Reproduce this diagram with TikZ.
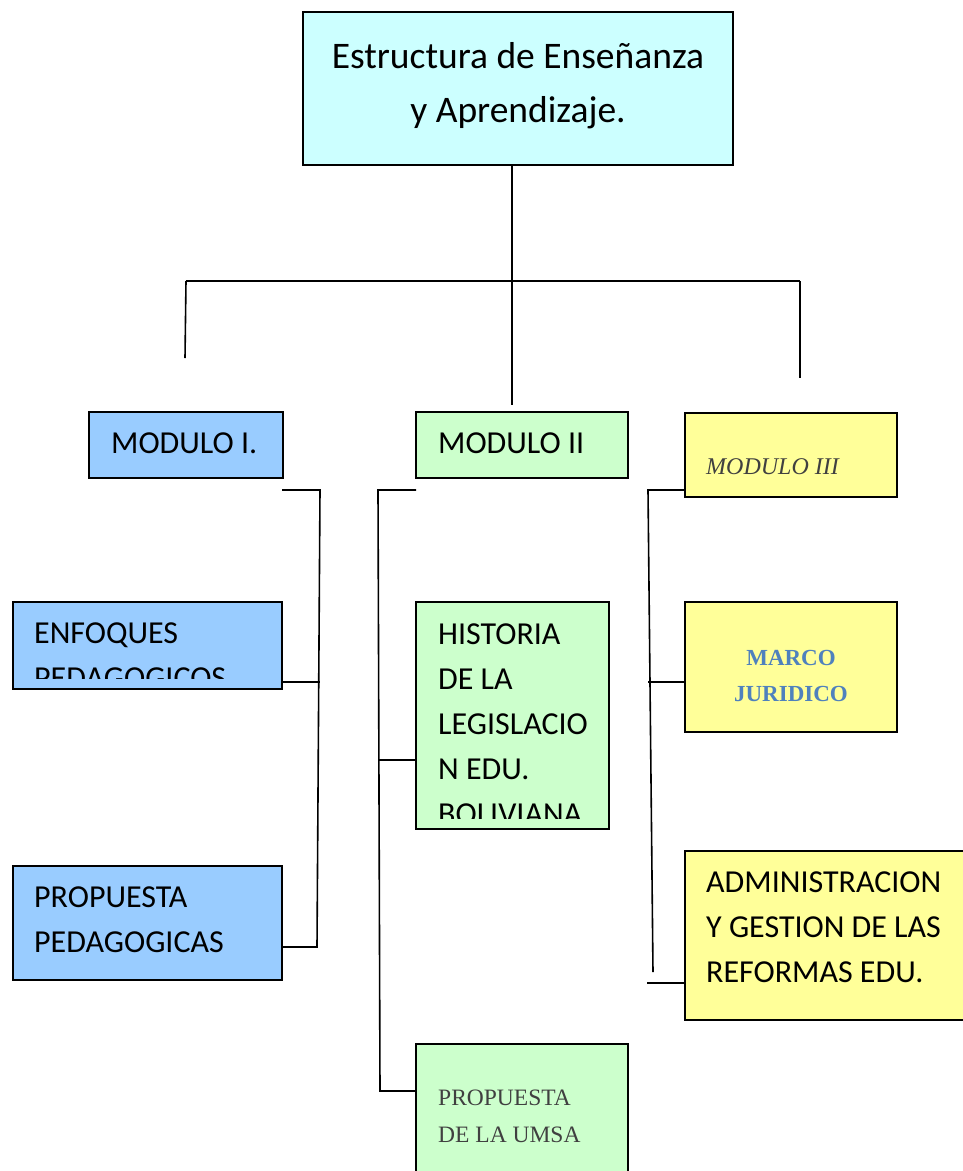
\documentclass[tikz,border=0pt]{standalone}
\usepackage{fontspec}
\setmainfont{Carlito}
\newfontfamily\serifcam{Liberation Serif}
\definecolor{cyanbox}{HTML}{CCFFFF}
\definecolor{bluebox}{HTML}{99CCFF}
\definecolor{greenbox}{HTML}{CCFFCC}
\definecolor{yellowbox}{HTML}{FFFF99}
\definecolor{marcoblue}{HTML}{4F81BD}
\definecolor{umsagray}{HTML}{404040}
\tikzset{
  box/.style={draw=black, line width=1.6pt, inner sep=0pt, outer sep=0pt},
  conn/.style={draw=black, line width=1.6pt},
  lbl/.style={anchor=base west, inner sep=0pt, font=\fontsize{32}{45}\selectfont},
  title/.style={anchor=base, inner sep=0pt, font=\fontsize{37.5}{54}\selectfont},
}
\begin{document}
\begin{tikzpicture}[x=1pt,y=-1pt]
\useasboundingbox (0,0) rectangle (963,1171);
\clip (0,0) rectangle (963,1171);
\fill[white] (0,0) rectangle (963,1171);

% boxes
\node[box, fill=cyanbox, minimum width=430pt, minimum height=153pt] (top) at (518,88.5) {};
\node[box, fill=bluebox, minimum width=194pt, minimum height=66pt] (m1) at (186,445) {};
\node[box, fill=greenbox, minimum width=212pt, minimum height=66pt] (m2) at (522,445) {};
\node[box, fill=yellowbox, minimum width=212pt, minimum height=84pt] (m3) at (791,455) {};
\node[box, fill=bluebox, minimum width=269pt, minimum height=87pt] (enf) at (147.5,645.5) {};
\node[box, fill=bluebox, minimum width=269pt, minimum height=114pt] (prop) at (147.5,923) {};
\node[box, fill=greenbox, minimum width=193pt, minimum height=227pt] (hist) at (512.5,715.5) {};
\node[box, fill=greenbox, minimum width=212pt, minimum height=156pt] (umsa) at (522,1122) {};
\node[box, fill=yellowbox, minimum width=212pt, minimum height=130pt] (marco) at (791,667) {};
\node[box, fill=yellowbox, minimum width=295pt, minimum height=169pt] (admin) at (832.5,935.5) {};

% texts
\node[title] (t1a) at (518,68) {Estructura de Enseñanza};
\node[title] (t1b) at (518,122) {y Aprendizaje.};
\node[lbl] (tm1) at (111,453) {MODULO I.};
\node[lbl] (tm2) at (438,453) {MODULO II};
\node[anchor=base west, inner sep=0pt, font=\serifcam\itshape\fontsize{24}{30}\selectfont, text=umsagray] (tm3) at (706,474) {MODULO III};
\begin{scope}
\clip (13,602) rectangle (282,678);
\node[lbl] (te1) at (34,643) {ENFOQUES};
\node[lbl] (te2) at (34,688) {PEDAGOGICOS};
\end{scope}
\node[lbl] (tp1) at (34,907) {PROPUESTA};
\node[lbl] (tp2) at (34,952) {PEDAGOGICAS};
\begin{scope}
\clip (416,602) rectangle (609,818);
\node[lbl] (th1) at (438,644) {HISTORIA};
\node[lbl] (th2) at (438,689) {DE LA};
\node[lbl] (th3) at (438,734) {LEGISLACIO};
\node[lbl] (th4) at (438,779) {N EDU.};
\node[lbl] (th5) at (438,824) {BOLIVIANA};
\end{scope}
\node[anchor=base, inner sep=0pt, font=\serifcam\bfseries\fontsize{23}{30}\selectfont, text=marcoblue] (tj1) at (791,665) {MARCO};
\node[anchor=base, inner sep=0pt, font=\serifcam\bfseries\fontsize{23}{30}\selectfont, text=marcoblue] (tj2) at (791,701) {JURIDICO};
\node[lbl] (ta1) at (706,892) {ADMINISTRACION};
\node[lbl] (ta2) at (706,937) {Y GESTION DE LAS};
\node[lbl] (ta3) at (706,982) {REFORMAS EDU.};
\node[anchor=base west, inner sep=0pt, font=\serifcam\fontsize{23.5}{30}\selectfont, text=umsagray] (tu1) at (438,1105) {PROPUESTA};
\node[anchor=base west, inner sep=0pt, font=\serifcam\fontsize{23.5}{30}\selectfont, text=umsagray] (tu2) at (438,1142) {DE LA UMSA};

% connector coordinates
\coordinate (trunkT) at (512,165);
\coordinate (trunkB) at (512,405);
\coordinate (barL) at (186,281);
\coordinate (barM) at (512,281);
\coordinate (barR) at (800,281);
\coordinate (dropL) at (185,358);
\coordinate (dropR) at (800,378);

\coordinate (lA) at (282,490);
\coordinate (lB) at (320,490);
\coordinate (lC) at (317,947);
\coordinate (lD) at (320,682);

\coordinate (mA) at (416,490);
\coordinate (mB) at (378,490);
\coordinate (mC) at (380,1091);
\coordinate (mD) at (378,760);

\coordinate (rA) at (685,490);
\coordinate (rB) at (648,490);
\coordinate (rC) at (653,972);
\coordinate (rD) at (648,682);
\coordinate (rE) at (647,983);

% top tree
\draw[conn] (trunkT) -- (trunkB);
\draw[conn] (barL) -- (barR);
\draw[conn] (barL) -- (dropL);
\draw[conn] (barR) -- (dropR);

% left bracket
\draw[conn] (lA) -- (lB) -- (lC) -- (lC -| enf.east);
\draw[conn] (enf.east |- lD) -- (lD);

% middle bracket
\draw[conn] (mA) -- (mB) -- (mC) -- (mC -| umsa.west);
\draw[conn] (mD) -- (mD -| hist.west);

% right bracket
\draw[conn] (rA) -- (rB) -- (rC);
\draw[conn] (rD) -- (rD -| marco.west);
\draw[conn] (rE) -- (rE -| admin.west);
\end{tikzpicture}
\end{document}
